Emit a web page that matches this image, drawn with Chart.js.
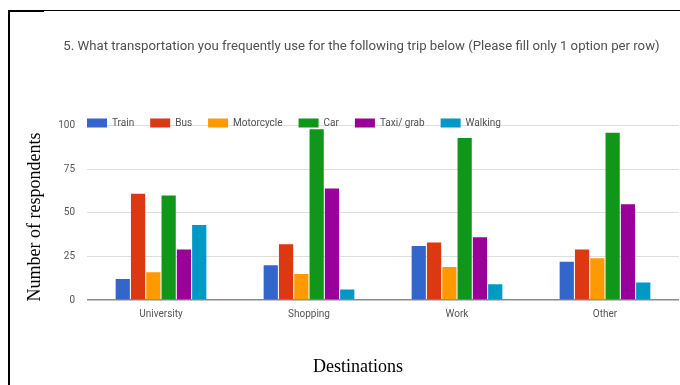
<!DOCTYPE html>
<html>
<head>
<meta charset="utf-8">
<title>Transportation by destination</title>
<script src="https://cdn.jsdelivr.net/npm/chart.js@4/dist/chart.umd.min.js"></script>
<style>
    body { margin: 0; background: #fff; }
    #wrap { position: relative; width: 680px; height: 385px; overflow: hidden; }
    #frame { position: absolute; left: 8px; top: 10px; right: -2px; bottom: -2px;
             border-left: 2px solid #000; border-top: 1px solid #000; }
    #notch { position: absolute; left: 8px; top: 10px; width: 36px; height: 2px; background: #000; }
    canvas { position: absolute; left: 0; top: 0; }
</style>
</head>
<body>
<div id="wrap">
    <div id="frame"></div>
    <div id="notch"></div>
    <canvas id="chart" width="680" height="385"></canvas>
</div>
<script>
// Survey data
const destinations = ['University', 'Shopping', 'Work', 'Other'];
const train      = [12, 20, 31, 22];
const bus        = [61, 32, 33, 29];
const motorcycle = [16, 15, 19, 24];
const car        = [60, 98, 93, 96];
const taxiGrab   = [29, 64, 36, 55];
const walking    = [43, 6, 9, 10];
const yTicks     = [0, 25, 50, 75, 100];

const chartTitle = '5. What transportation you frequently use for the following trip below (Please fill only 1 option per row)';
const yTitle = 'Number of respondents';
const xTitle = 'Destinations';

// Legend drawn inside the plot, left aligned, like the Google Forms chart
const sideText = {
    id: 'sideText',
    afterDraw: function(chart) {
        const ctx = chart.ctx;
        const area = chart.chartArea;
        ctx.save();

        // legend
        ctx.font = '10px Roboto';
        ctx.textBaseline = 'middle';
        ctx.textAlign = 'left';
        let x = area.left;
        const y = 123;
        chart.data.datasets.forEach(function(ds) {
            ctx.fillStyle = ds.backgroundColor;
            ctx.fillRect(x, y - 4.5, 20, 9);
            x += 25;
            ctx.fillStyle = '#505050';
            ctx.fillText(ds.label, x, y);
            x += ctx.measureText(ds.label).width + 16;
        });

        // axis titles
        ctx.fillStyle = '#000';
        ctx.font = '18px "Liberation Serif"';
        ctx.textAlign = 'center';
        ctx.fillText(xTitle, 358, 367);
        ctx.translate(35, 217);
        ctx.rotate(-Math.PI / 2);
        ctx.fillText(yTitle, 0, 0);
        ctx.restore();
    }
};

const series = [
    { label: 'Train', data: train, color: '#3366cc' },
    { label: 'Bus', data: bus, color: '#dc3912' },
    { label: 'Motorcycle', data: motorcycle, color: '#ff9900' },
    { label: 'Car', data: car, color: '#109618' },
    { label: 'Taxi/ grab', data: taxiGrab, color: '#990099' },
    { label: 'Walking', data: walking, color: '#0099c6' }
];

new Chart(document.getElementById('chart'), {
    type: 'bar',
    data: {
        labels: destinations,
        datasets: series.map(function(s) {
            return {
                label: s.label,
                data: s.data,
                backgroundColor: s.color,
                borderWidth: 0,
                categoryPercentage: 0.62,
                barPercentage: 0.93
            };
        })
    },
    options: {
        responsive: false,
        animation: false,
        layout: { padding: { left: 44, right: 1, top: 0, bottom: 57 } },
        plugins: {
            legend: { display: false },
            tooltip: { enabled: false },
            title: {
                display: true,
                text: chartTitle,
                color: '#505050',
                font: { family: 'Roboto', size: 13.2, weight: 'normal' },
                padding: { top: 39, bottom: 71 }
            }
        },
        scales: {
            x: {
                grid: { display: false, drawTicks: false },
                border: { display: false },
                ticks: { color: '#555', padding: 8, font: { family: 'Roboto', size: 10 } }
            },
            y: {
                min: 0,
                max: 100,
                afterFit: function(scale) { scale.width = 43; },
                afterBuildTicks: function(scale) {
                    scale.ticks = yTicks.map(function(v) { return { value: v }; });
                },
                grid: {
                    drawTicks: false,
                    color: function(c) { return c.tick && c.tick.value === 0 ? '#8a8a8a' : '#dedede'; },
                    lineWidth: function(c) { return c.tick && c.tick.value === 0 ? 1.5 : 1; }
                },
                border: { display: false },
                ticks: { color: '#555', padding: 12, font: { family: 'Roboto', size: 10 } }
            }
        }
    },
    plugins: [sideText]
});
</script>
</body>
</html>
